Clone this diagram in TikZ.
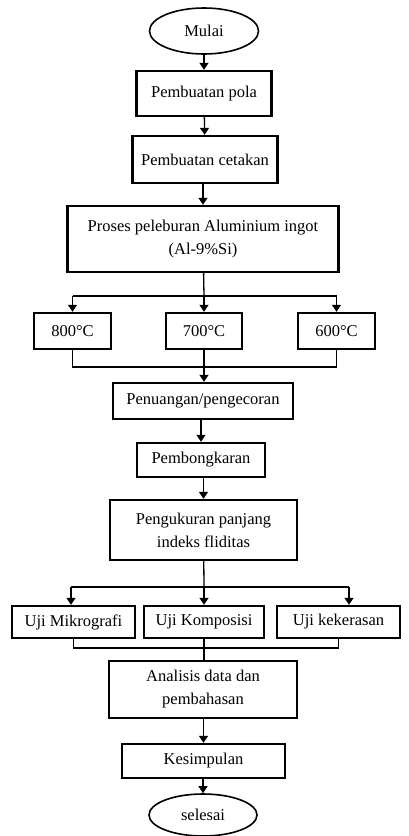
\documentclass[tikz,border=0pt]{standalone}
\usepackage{fontspec}
\setmainfont{Liberation Serif}
\usetikzlibrary{arrows.meta, shapes, positioning, calc}

\begin{document}
\begin{tikzpicture}[x=1pt,y=-1pt,
  font=\fontsize{16.5}{23}\selectfont,
  blok/.style={draw, line width=2.3pt, inner sep=2pt, align=center},
  ujung/.style={draw, ellipse, line width=1.6pt, inner sep=0pt},
  garis/.style={line width=1.3pt},
  panah/.style={garis, -{Triangle[length=7pt,width=9pt]}}]
\useasboundingbox (0,0) rectangle (408,836);
% start
\node[ujung, minimum width=109, minimum height=46] (mulai) at (204,31) {Mulai};
\node[blok, minimum width=135, minimum height=45] (pola) at (204,93.5) {Pembuatan pola};
\node[blok, minimum width=145, minimum height=47] (cetakan) at (205,159.5) {Pembuatan cetakan};
\node[blok, minimum width=271, minimum height=66] (proses) at (203,239) {Proses peleburan Aluminium ingot\\(Al-9\%Si)};
% temperatures
\node[blok, minimum width=77, minimum height=36] (t800) at (72.5,331) {800\textdegree C};
\node[blok, minimum width=76, minimum height=36] (t700) at (204,331) {700\textdegree C};
\node[blok, minimum width=77, minimum height=36] (t600) at (336.5,331) {600\textdegree C};
\node[blok, minimum width=180, minimum height=36] (penuangan) at (203,401) {Penuangan/pengecoran};
\node[blok, minimum width=128, minimum height=34] (bongkar) at (201,460) {Pembongkaran};
\node[blok, minimum width=187, minimum height=60] (ukur) at (203.5,530) {Pengukuran panjang\\indeks fliditas};
% tests
\node[blok, minimum width=123, minimum height=32] (mikro) at (73.5,622) {Uji Mikrografi};
\node[blok, minimum width=120, minimum height=32] (komposisi) at (204,622) {Uji Komposisi};
\node[blok, minimum width=123, minimum height=32] (keras) at (338.5,622) {Uji kekerasan};
\node[blok, minimum width=188, minimum height=57] (analisis) at (203,689.5) {Analisis data dan\\pembahasan};
\node[blok, minimum width=163, minimum height=34] (kesimpulan) at (203.5,761) {Kesimpulan};
\node[ujung, minimum width=108, minimum height=42] (selesai) at (203,815) {selesai};
% branch points
\coordinate (split1) at (204,296);
\coordinate (join1) at (204,367);
\coordinate (split2) at (204,587);
\coordinate (s2l) at (71,587);
\coordinate (s2r) at (349,587);
\coordinate (join2) at (204,648);
% connectors
\draw[panah] (mulai) -- (pola);
\draw[panah] (pola) -- (cetakan);
\draw[panah] (cetakan.south -| proses) -- (proses);
\draw[garis] (proses) -- (split1);
\draw[garis] (t800 |- split1) -- (t600 |- split1);
\draw[panah] (t800 |- split1) -- (t800);
\draw[panah] (split1) -- (t700);
\draw[panah] (t600 |- split1) -- (t600);
\draw[garis] (t800) -- (t800 |- join1) -- (t600 |- join1) -- (t600);
\draw[garis] (t700) -- (join1);
\draw[panah] (join1) -- (join1 |- penuangan.north);
\draw[panah] (penuangan.south -| bongkar) -- (bongkar);
\draw[panah] (bongkar.south -| ukur) -- (ukur);
\draw[garis] (ukur) -- (split2);
\draw[garis] (s2l) -- (s2r);
\draw[panah] (s2l) -- (s2l |- mikro.north);
\draw[panah] (split2) -- (komposisi);
\draw[panah] (s2r) -- (s2r |- keras.north);
\draw[garis] (mikro) -- (mikro |- join2) -- (keras |- join2) -- (keras);
\draw[garis] (komposisi) -- (join2);
\draw[garis] (join2) -- (join2 |- analisis.north);
\draw[panah] (analisis.south -| kesimpulan) -- (kesimpulan);
\draw[panah] (kesimpulan.south -| selesai) -- (selesai);
\end{tikzpicture}
\end{document}
